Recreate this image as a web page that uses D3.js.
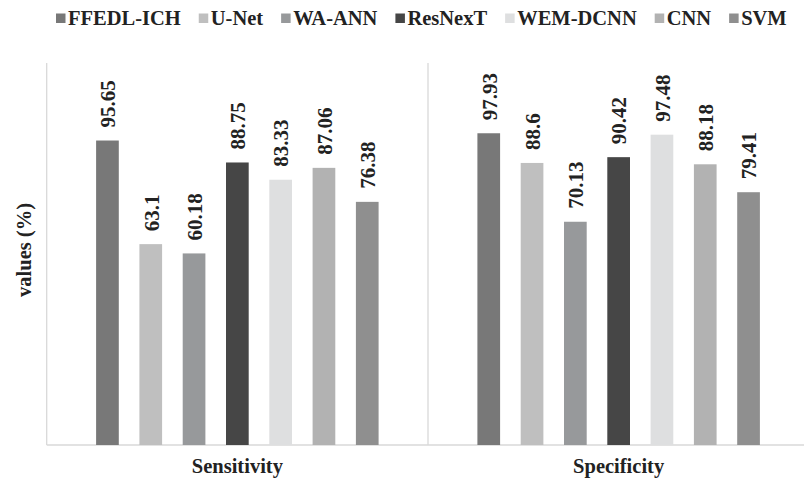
<!DOCTYPE html>
<html>
<head>
<meta charset="utf-8">
<script src="https://cdn.jsdelivr.net/npm/d3@7"></script>
<style>
  html, body { margin: 0; padding: 0; background: #fff; }
  svg { display: block; }
  text { font-family: "Liberation Serif", "Times New Roman", serif; font-weight: bold; fill: #222; }
</style>
</head>
<body>
<svg id="chart" width="804" height="482"></svg>
<script>
// Metric groups along the x axis
const metrics = ["Sensitivity", "Specificity"];
// Compared models (legend order)
const models = ["FFEDL-ICH", "U-Net", "WA-ANN", "ResNexT", "WEM-DCNN", "CNN", "SVM"];
// Values (%) per model, one array per metric
const sensitivity = [95.65, 63.1, 60.18, 88.75, 83.33, 87.06, 76.38];
const specificity = [97.93, 88.6, 70.13, 90.42, 97.48, 88.18, 79.41];
// Fill for each model
const modelColors = ["#787878", "#bfbfbf", "#97999b", "#464646", "#dedfe0", "#b2b2b2", "#8f8f8f"];

const seriesByMetric = [sensitivity, specificity];

const svg = d3.select("#chart");
const plot = { left: 46.7, right: 809.3, top: 63, bottom: 445 };

const x0 = d3.scaleBand().domain(metrics).range([plot.left, plot.right]).padding(0);
const x1 = d3.scaleBand().domain(models).range([0, x0.bandwidth()])
  .paddingInner(0.476).paddingOuter(1.141);
const y = d3.scaleLinear().domain([0, 120]).range([plot.bottom, plot.top]);
const color = d3.scaleOrdinal().domain(models).range(modelColors);

// Category separators and frame lines
const gridColor = "#d9d9d9";
const edges = [plot.left, ...metrics.map(m => x0(m) + x0.bandwidth())];
svg.append("g").selectAll("line").data(edges).join("line")
  .attr("x1", d => d).attr("x2", d => d)
  .attr("y1", plot.top).attr("y2", plot.bottom)
  .attr("stroke", gridColor).attr("stroke-width", 1.3);
svg.append("line")
  .attr("x1", plot.left).attr("x2", plot.right)
  .attr("y1", plot.bottom).attr("y2", plot.bottom)
  .attr("stroke", gridColor).attr("stroke-width", 1.3);

// Bars and rotated value labels
const rows = metrics.flatMap((m, i) => models.map((k, j) => ({ metric: m, model: k, value: seriesByMetric[i][j] })));

const groups = svg.append("g").selectAll("g").data(rows).join("g")
  .attr("transform", d => `translate(${x0(d.metric) + x1(d.model)},0)`);

groups.append("rect")
  .attr("x", 0)
  .attr("width", x1.bandwidth())
  .attr("y", d => y(d.value))
  .attr("height", d => y(0) - y(d.value))
  .attr("fill", d => color(d.model));

groups.append("text")
  .attr("transform", d => `translate(${x1.bandwidth() / 2},${y(d.value) - 13}) rotate(-90)`)
  .attr("dy", "0.37em")
  .attr("text-anchor", "start")
  .style("font-size", "21px")
  .text(d => d.value);

// Category labels
svg.append("g").selectAll("text").data(metrics).join("text")
  .attr("x", d => x0(d) + x0.bandwidth() / 2)
  .attr("y", 473)
  .attr("text-anchor", "middle")
  .style("font-size", "20.5px")
  .text(d => d);

// Y axis title
svg.append("text")
  .attr("transform", `translate(31,${(plot.top + plot.bottom) / 2 - 4}) rotate(-90)`)
  .attr("text-anchor", "middle")
  .style("font-size", "20.5px")
  .text("values (%)");

// Legend laid out left to right
const legend = svg.append("g");
let lx = 56;
models.forEach((m, i) => {
  legend.append("rect")
    .attr("x", lx).attr("y", 13.5).attr("width", 9.5).attr("height", 9.5)
    .attr("fill", color(m));
  const t = legend.append("text")
    .attr("x", lx + 12).attr("y", 25)
    .style("font-size", "20.5px")
    .text(m);
  lx += 12 + t.node().getComputedTextLength() + 18;
});
</script>
</body>
</html>
